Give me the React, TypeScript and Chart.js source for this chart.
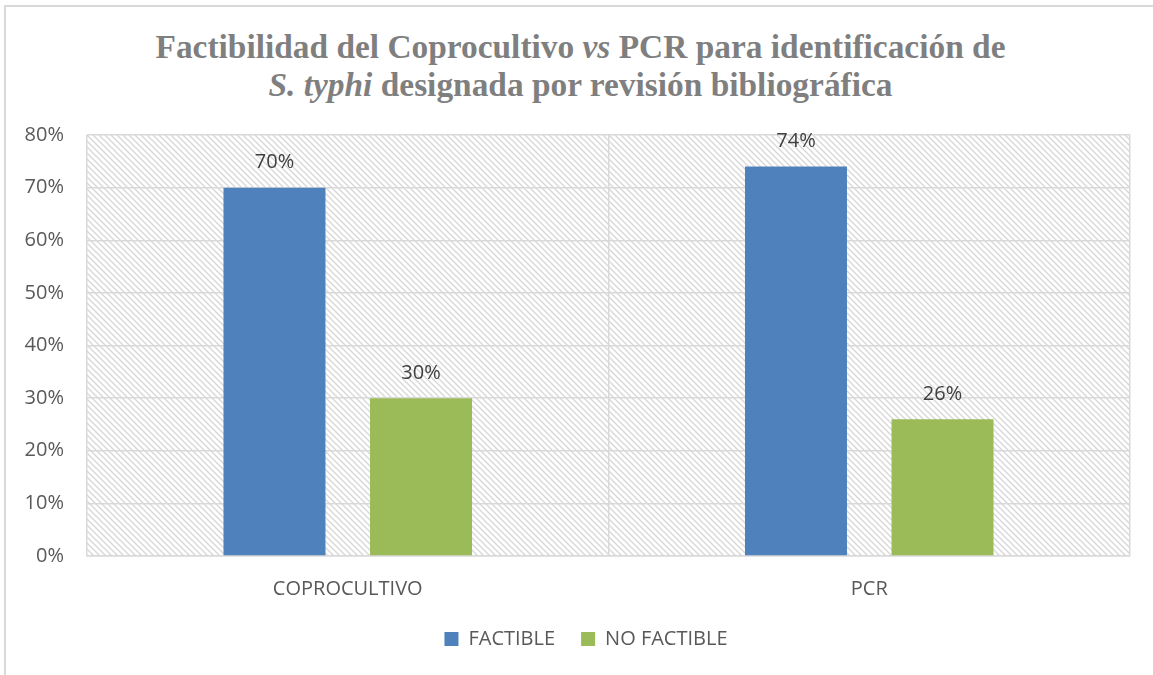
import React, { useEffect, useRef } from "react";
import { Chart, registerables } from "chart.js";

Chart.register(...registerables);

const categories = ["COPROCULTIVO", "PCR"];
const seriesNames = ["FACTIBLE", "NO FACTIBLE"];
const factible = [70, 74];
const noFactible = [30, 26];
const yTicks = [0, 10, 20, 30, 40, 50, 60, 70, 80];

const BLUE = "#4f81bd";
const GREEN = "#9bbb59";
const GRID = "#d9d9d9";
const TEXT = "#595959";
const FONT = "'Open Sans', 'Noto Sans', sans-serif";
const FS = 20;

function makePattern(): CanvasPattern | string {
  const c = document.createElement("canvas");
  c.width = 6;
  c.height = 6;
  const g = c.getContext("2d");
  if (!g) return "#ffffff";
  g.fillStyle = "#ffffff";
  g.fillRect(0, 0, 6, 6);
  g.strokeStyle = "#d6d6d6";
  g.lineWidth = 1.3;
  g.beginPath();
  g.moveTo(-1, -1);
  g.lineTo(7, 7);
  g.moveTo(-4, 2);
  g.lineTo(4, 10);
  g.moveTo(2, -4);
  g.lineTo(10, 4);
  g.stroke();
  const p = g.createPattern(c, "repeat");
  return p || "#ffffff";
}

const hatchPlugin = {
  id: "hatchBg",
  beforeDraw(chart: any) {
    const { ctx, chartArea } = chart;
    if (!chartArea) return;
    ctx.save();
    ctx.fillStyle = makePattern();
    ctx.fillRect(chartArea.left, chartArea.top, chartArea.right - chartArea.left, chartArea.bottom - chartArea.top);
    ctx.restore();
  },
};

const legendShift = {
  id: "legendShift",
  afterLayout(chart: any) {
    const lg = chart.legend;
    if (lg) {
      lg.left += 21;
      lg.right += 21;
    }
  },
};

const labelPlugin = {
  id: "valueLabels",
  afterDatasetsDraw(chart: any) {
    const { ctx } = chart;
    ctx.save();
    ctx.font = `${FS}px ${FONT}`;
    ctx.fillStyle = "#404040";
    ctx.textAlign = "center";
    ctx.textBaseline = "middle";
    chart.data.datasets.forEach((ds: any, i: number) => {
      const meta = chart.getDatasetMeta(i);
      meta.data.forEach((bar: any, j: number) => {
        ctx.fillText(ds.data[j] + "%", bar.x, bar.y - 25);
      });
    });
    ctx.restore();
  },
};

export default function App() {
  const ref = useRef<HTMLCanvasElement>(null);
  useEffect(() => {
    document.body.style.margin = "0";
    if (!ref.current) return;
    const chart = new Chart(ref.current, {
      type: "bar",
      data: {
        labels: categories,
        datasets: [
          { label: seriesNames[0], data: factible, backgroundColor: BLUE, categoryPercentage: 0.562, barPercentage: 0.696 },
          { label: seriesNames[1], data: noFactible, backgroundColor: GREEN, categoryPercentage: 0.562, barPercentage: 0.696 },
        ],
      },
      options: {
        responsive: false,
        animation: false,
        maintainAspectRatio: false,
        layout: { padding: { left: 0, right: 23, top: 135, bottom: 16 } },
        plugins: {
          title: { display: false },
          tooltip: { enabled: false },
          legend: {
            position: "bottom",
            labels: {
              boxWidth: 14,
              boxHeight: 14,
              color: TEXT,
              font: { family: FONT, size: FS },
              padding: 26,
            },
          },
        },
        scales: {
          x: {
            grid: { color: GRID, drawTicks: false, offset: true, lineWidth: 1.5 },
            border: { color: GRID, width: 1.5 },
            ticks: { color: TEXT, font: { family: FONT, size: FS }, padding: 21 },
            afterFit: (s: any) => { s.height = 47; },
          },
          y: {
            min: 0,
            max: 80,
            afterBuildTicks: (s: any) => { s.ticks = yTicks.map((v) => ({ value: v })); },
            grid: { color: GRID, drawTicks: false, lineWidth: 1.5 },
            border: { display: false },
            ticks: { color: TEXT, font: { family: FONT, size: FS }, padding: 23, callback: (v: any) => v + "%" },
            afterFit: (s: any) => { s.width = 87; },
          },
        },
      },
      plugins: [hatchPlugin, labelPlugin, legendShift],
    });
    return () => chart.destroy();
  }, []);

  return (
    <div style={{ position: "relative", width: 1153, height: 675, background: "#fff", overflow: "hidden" }}>
      <div style={{ position: "absolute", left: 4, top: 5, width: 1200, height: 700, borderTop: "2px solid #d9d9d9", borderLeft: "2px solid #d9d9d9" }} />
      <div
        style={{
          position: "absolute",
          left: 8,
          top: 28,
          width: 1145,
          textAlign: "center",
          fontFamily: "'Liberation Serif', 'DejaVu Serif', serif",
          fontWeight: "bold",
          fontSize: 33.4,
          lineHeight: "38px",
          color: "#7f7f7f",
        }}
      >
        Factibilidad del Coprocultivo <i>vs</i> PCR para identificación de
        <br />
        <i>S. typhi</i> designada por revisión bibliográfica
      </div>
      <canvas ref={ref} width={1153} height={675} style={{ position: "absolute", left: 0, top: 0 }} />
    </div>
  );
}
